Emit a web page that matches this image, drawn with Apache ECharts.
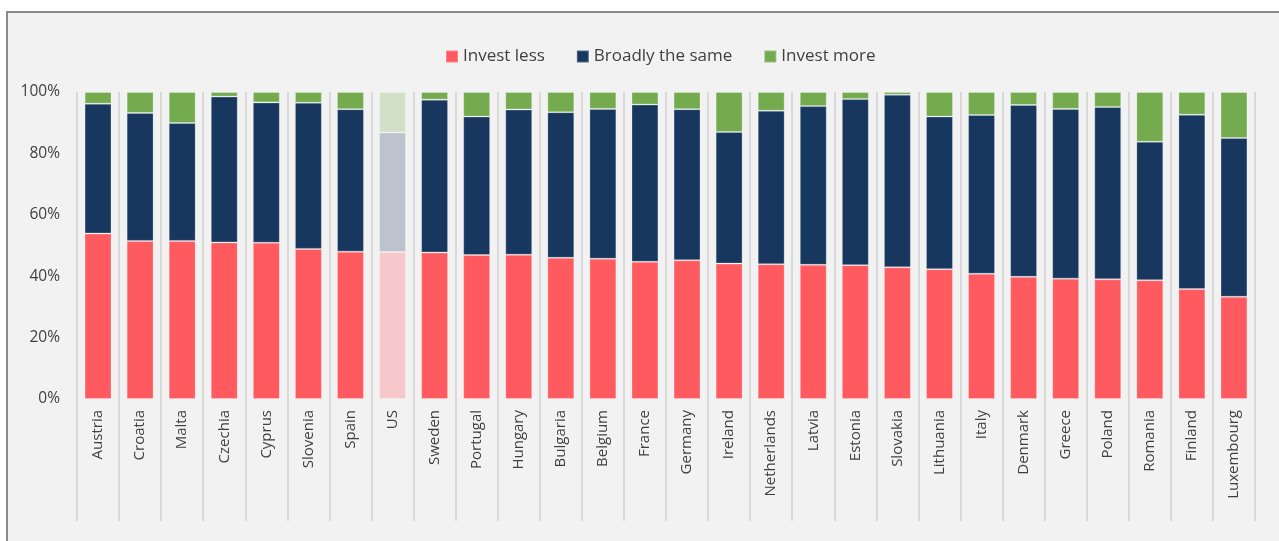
<!DOCTYPE html>
<html>
<head>
<meta charset="utf-8">
<script src="https://cdn.jsdelivr.net/npm/echarts@6/dist/echarts.min.js"></script>
<style>
    html, body { margin: 0; padding: 0; background: #ffffff; }
    #chart { width: 1279px; height: 541px; }
</style>
</head>
<body>
<div id="chart"></div>
<script>
    // countries, sorted by share "invest less"
    var countries = ['Austria', 'Croatia', 'Malta', 'Czechia', 'Cyprus', 'Slovenia', 'Spain', 'US',
        'Sweden', 'Portugal', 'Hungary', 'Bulgaria', 'Belgium', 'France', 'Germany', 'Ireland',
        'Netherlands', 'Latvia', 'Estonia', 'Slovakia', 'Lithuania', 'Italy', 'Denmark', 'Greece',
        'Poland', 'Romania', 'Finland', 'Luxembourg'];
    var investLess = [53.9, 51.5, 51.5, 51.0, 50.9, 48.9, 48.0, 47.9, 47.7, 46.9, 47.0, 46.0, 45.7, 44.7,
        45.2, 44.1, 43.9, 43.7, 43.6, 42.9, 42.3, 40.8, 39.8, 39.2, 39.0, 38.7, 35.8, 33.3];
    var broadlySame = [42.3, 41.7, 38.4, 47.5, 45.7, 47.6, 46.4, 38.9, 49.8, 45.1, 47.3, 47.4, 48.8, 51.2,
        49.2, 42.9, 50.0, 51.7, 54.1, 56.2, 49.7, 51.7, 56.0, 55.3, 56.1, 45.1, 56.8, 51.7];
    var investMore = [3.8, 6.8, 10.1, 1.5, 3.4, 3.5, 5.6, 13.2, 2.5, 8.0, 5.7, 6.6, 5.5, 4.1,
        5.6, 13.0, 6.1, 4.6, 2.3, 0.9, 8.0, 7.5, 4.2, 5.5, 4.9, 16.2, 7.4, 15.0];
    var yTicks = [0, 20, 40, 60, 80, 100];
    var mutedCountry = 'US';

    var textColor = '#404040';
    var font = 'Open Sans';

    function buildData(values, mutedColor) {
        return values.map(function (v, i) {
            if (countries[i] === mutedCountry) {
                return { value: v, itemStyle: { color: mutedColor } };
            }
            return v;
        });
    }

    function makeSeries(name, values, color, mutedColor) {
        return {
            name: name,
            type: 'bar',
            stack: 'total',
            barCategoryGap: '36%',
            itemStyle: { color: color, borderColor: 'rgba(255,255,255,0.25)', borderWidth: 1 },
            data: buildData(values, mutedColor)
        };
    }

    var myChart = echarts.init(document.getElementById('chart'));
    myChart.setOption({
        animation: false,
        backgroundColor: '#ffffff',
        graphic: [{
            type: 'rect',
            z: -10,
            shape: { x: 7, y: 12, width: 1300, height: 560 },
            style: { fill: '#f2f2f2', stroke: '#8a8a8a', lineWidth: 2 }
        }],
        legend: {
            top: 43,
            left: 440,
            itemWidth: 12,
            itemHeight: 12,
            itemGap: 31,
            icon: 'rect',
            textStyle: { fontFamily: font, fontSize: 17, color: textColor }
        },
        grid: { left: 77, right: 24, top: 92, bottom: 142 },
        xAxis: {
            type: 'category',
            data: countries,
            axisLine: { show: false },
            axisTick: { show: true, length: 122, lineStyle: { color: '#d9d9d9', width: 2 } },
            splitLine: { show: true, lineStyle: { color: '#d9d9d9', width: 2 } },
            axisLabel: {
                rotate: 90,
                margin: 11,
                interval: 0,
                fontFamily: font,
                fontSize: 15,
                color: textColor
            }
        },
        yAxis: {
            type: 'value',
            min: yTicks[0],
            max: yTicks[yTicks.length - 1],
            interval: yTicks[1] - yTicks[0],
            splitLine: { show: false },
            axisLine: { show: false },
            axisTick: { show: false },
            axisLabel: {
                margin: 17,
                fontFamily: font,
                fontSize: 15.5,
                color: textColor,
                formatter: '{value}%'
            }
        },
        series: [
            makeSeries('Invest less', investLess, '#ff5a5f', '#f5c9cb'),
            makeSeries('Broadly the same', broadlySame, '#17375e', '#bcc3ce'),
            makeSeries('Invest more', investMore, '#75ab4f', '#d3e0c8')
        ]
    });
</script>
</body>
</html>
